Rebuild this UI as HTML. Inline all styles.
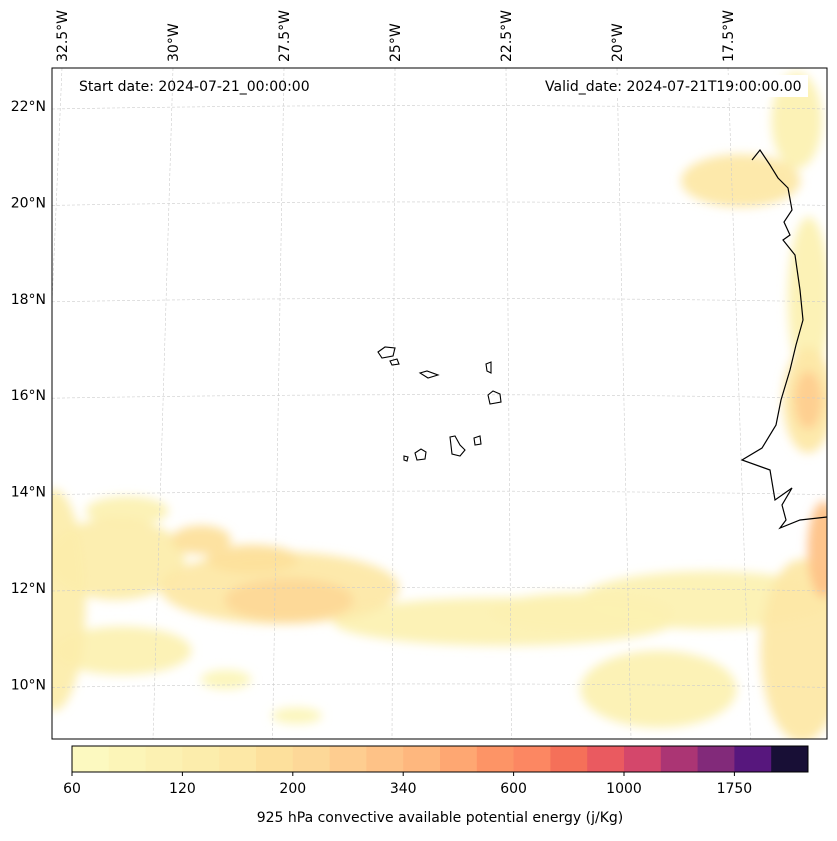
<!DOCTYPE html>
<html><head><meta charset="utf-8"><style>
body{margin:0;background:#fff;font-family:"Liberation Sans",sans-serif;}
svg text{font-family:"DejaVu Sans","Liberation Sans",sans-serif;font-size:14px;fill:#000}
</style></head><body>
<svg id="c" width="837" height="836"></svg>
<script>
const latTicks=[22,20,18,16,14,12,10];
const lonTicks=[-32.5,-30,-27.5,-25,-22.5,-20,-17.5];
const cbLevels=["60","120","200","340","600","1000","1750"];
const cbColors=["#fcf9c0","#fcf5b8","#fcf1b2","#fcedac","#fde8a6","#fde09c","#fdd898","#fecd90","#fec287","#feb77e","#fea772","#fd9466","#fc8762","#f57059","#ea5a60","#d4476b","#ab3574","#822a7a","#57177d","#180f36"];
// blobs: lon, lat, rx(deg), ry(deg), level index
const blobLon=[-30.9,-27.4,-32.2,-22.65,-18.3,-16.35,-17.3,-16.0,-16.0,-15.9,-30.7,-19.4,-27,-28.5,-30.7,-27.2,-29.1,-16.0,-15.8,-21.0,-28.0];
const blobLat=[12.6,12.0,11.75,11.3,11.75,10.7,20.45,21.7,15.9,18.0,10.7,9.9,9.35,10.1,13.6,11.75,13.0,15.9,12.8,11.5,12.6];
const blobRx=[1.5,2.6,0.7,3.7,2.8,0.9,1.3,0.55,0.55,0.45,1.5,1.7,0.55,0.55,0.9,1.4,0.65,0.3,0.35,2.0,1.0];
const blobRy=[0.85,0.75,2.3,0.5,0.6,1.9,0.55,1.0,1.1,1.7,0.5,0.8,0.17,0.2,0.3,0.45,0.3,0.6,1.0,0.4,0.3];
const blobLvl=[3,4,3,2,2,4,4,2,4,2,2,2,1,1,2,6,5,7,8,2,5];
const NS="http://www.w3.org/2000/svg";
const svg=document.getElementById('c');
function mk(t,a,p){const e=document.createElementNS(NS,t);for(const k in a)e.setAttribute(k,a[k]);(p||svg).appendChild(e);return e;}
const X0=52,X1=827,Y0=68,Y1=739;
function yOf(lat){return 106+(22-lat)*48.2;}
function xOf(lon,y){const xt=395+(lon+25)*44.4,xb=392+(lon+25)*47.8;const f=(y-Y0)/(Y1-Y0);return xt+(xb-xt)*f;}
const defs=mk('defs',{});
const cp=mk('clipPath',{id:'clip'},defs);mk('rect',{x:X0,y:Y0,width:X1-X0,height:Y1-Y0},cp);
const fl=mk('filter',{id:'blur',x:'-50%',y:'-50%',width:'200%',height:'200%'},defs);mk('feGaussianBlur',{stdDeviation:5},fl);
const map=mk('g',{'clip-path':'url(#clip)'});


const field=mk('g',{filter:'url(#blur)'},map);
const order=blobLvl.map((v,i)=>i).sort((a,b)=>blobLvl[a]-blobLvl[b]);
order.forEach(i=>{const cy=yOf(blobLat[i]);const cx=xOf(blobLon[i],cy);
 const e=mk('ellipse',{cx:cx,cy:cy,rx:blobRx[i]*46,ry:blobRy[i]*48.2,fill:cbColors[blobLvl[i]],opacity:0.95},field);
 
 });
latTicks.forEach(l=>{const y=yOf(l);const g=mk('path',{d:`M${X0} ${y+3} Q440 ${y-4} ${X1} ${y+3}`,stroke:'#ccc','stroke-width':0.6,'stroke-dasharray':'3,2',fill:'none'},map);
 });
lonTicks.forEach(l=>{const g=mk('line',{x1:xOf(l,Y0),y1:Y0,x2:xOf(l,Y1),y2:Y1,stroke:'#ccc','stroke-width':0.6,'stroke-dasharray':'3,2'},map);
 });
const coast=mk('polyline',{points:"752,160 760,150 770,165 778,178 788,188 792,210 784,222 790,235 783,240 795,255 800,290 803,320 796,345 790,370 781,400 776,425 762,448 742,460 770,470 775,500 792,488 782,505 786,520 780,528 800,520 827,517",fill:'none',stroke:'#000','stroke-width':1.2},map);

const islands=["378,352 385,347 395,348 393,356 382,358","390,361 397,359 399,364 392,365","420,373 427,371 438,375 428,378","486,364 491,362 491,373 487,371","488,395 493,391 500,394 501,402 490,404","415,453 421,449 426,452 425,459 417,460","450,437 455,436 460,445 465,450 460,456 452,454","474,438 480,436 481,444 475,445","404,456 408,457 407,461 404,460"];
islands.forEach(p=>{const e=mk('polygon',{points:p,fill:'none',stroke:'#000','stroke-width':1.1},map);
 });
mk('rect',{x:538,y:75,width:270,height:22,fill:'#fff'},map);
const frame=mk('rect',{x:X0,y:Y0,width:X1-X0,height:Y1-Y0,fill:'none',stroke:'#000','stroke-width':1});

let t=mk('text',{x:79,y:91});t.textContent='Start date: 2024-07-21_00:00:00';

t=mk('text',{x:545,y:91});t.textContent='Valid_date: 2024-07-21T19:00:00.00';

latTicks.forEach(l=>{const e=mk('text',{x:46,y:yOf(l)+5,'text-anchor':'end'});e.textContent=l+'°N';
 });
lonTicks.forEach(l=>{const x=xOf(l,Y0)+5;const e=mk('text',{x:x,y:62,transform:`rotate(-90 ${x} 62)`});e.textContent=Math.abs(l)+'°W';
 });
const CB0=72,CB1=808,CBY=746,CBH=26,bw=(CB1-CB0)/cbColors.length;
cbColors.forEach((c,i)=>{const r=mk('rect',{x:CB0+i*bw,y:CBY,width:bw+0.5,height:CBH,fill:c});
 });
const cbf=mk('rect',{x:CB0,y:CBY,width:CB1-CB0,height:CBH,fill:'none',stroke:'#000','stroke-width':1});

cbLevels.forEach((v,i)=>{const x=CB0+i*3*bw;mk('line',{x1:x,y1:CBY+CBH,x2:x,y2:CBY+CBH+4,stroke:'#000'});
 const e=mk('text',{x:x,y:793,'text-anchor':'middle'});e.textContent=v;
 });
t=mk('text',{x:440,y:822,'text-anchor':'middle'});t.textContent='925 hPa convective available potential energy (j/Kg)';

</script></body></html>
